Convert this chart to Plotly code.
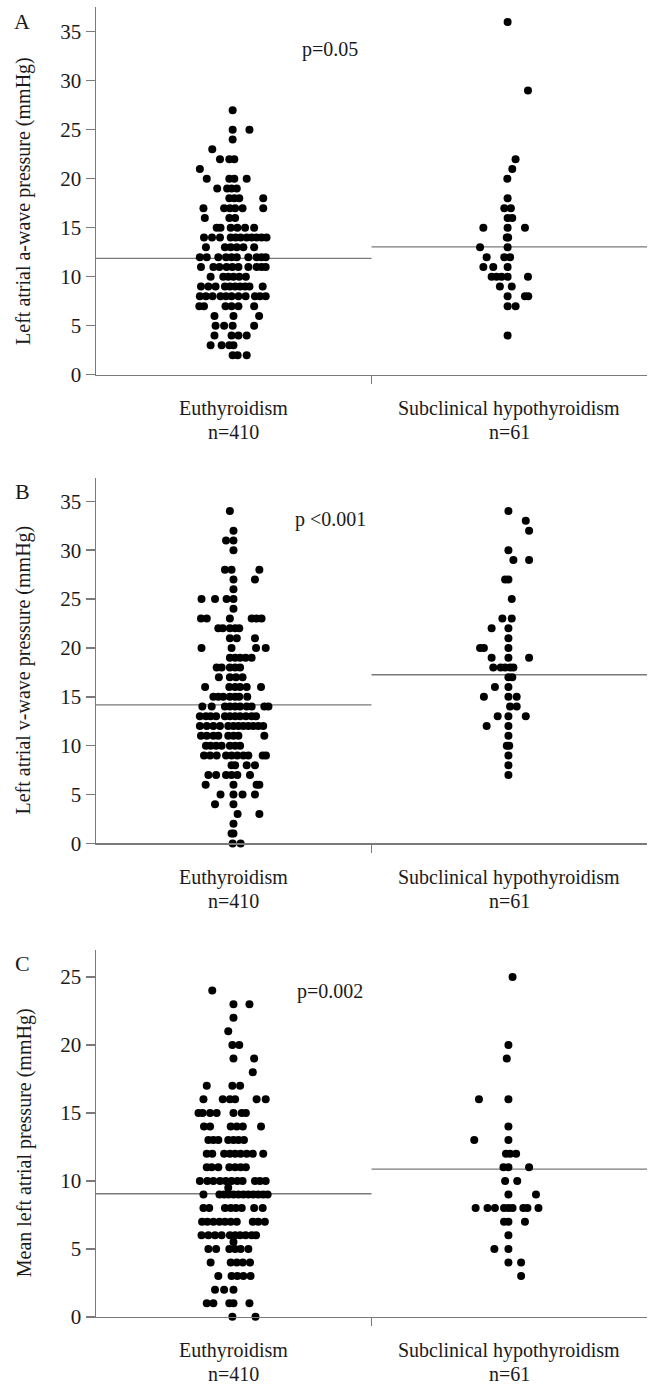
import plotly.graph_objects as go

# ---------------- data ----------------
categories = ["Euthyroidism", "Subclinical hypothyroidism"]
group_sizes = ["n=410", "n=61"]
panel_letters = ["A", "B", "C"]
y_titles = ["Left atrial a-wave pressure (mmHg)",
            "Left atrial v-wave pressure (mmHg)",
            "Mean left atrial pressure (mmHg)"]
p_values = ["p=0.05", "p <0.001", "p=0.002"]
y_tick_values = [[0, 5, 10, 15, 20, 25, 30, 35],
                 [0, 5, 10, 15, 20, 25, 30, 35],
                 [0, 5, 10, 15, 20, 25]]
y_max = [37.5, 37.4, 27.0]

# group means (horizontal lines)
means_a = [11.87, 13.05]
means_b = [14.17, 17.25]
means_c = [9.05, 10.87]

# value -> horizontal jitter offsets (category units) of each dot
a_euth = {
    27: [-0.004], 25: [-0.004, 0.057], 24: [-0.004], 23: [-0.078],
    22: [-0.050, -0.016, 0.002], 21: [-0.123],
    20: [-0.098, -0.016, 0.002, 0.047],
    19: [-0.060, -0.024, -0.008, 0.011],
    18: [-0.016, 0.002, 0.020, 0.107],
    17: [-0.110, -0.035, -0.014, 0.005, 0.032, 0.107],
    16: [-0.105, -0.016, 0.005],
    15: [-0.062, -0.048, -0.011, 0.013, 0.041, 0.074],
    14: [-0.108, -0.079, -0.050, -0.011, 0.007, 0.025, 0.047, 0.065, 0.083, 0.101, 0.119],
    13: [-0.101, -0.032, -0.011, 0.011, 0.035, 0.074],
    12: [-0.123, -0.098, -0.056, -0.028, -0.008, 0.011, 0.053, 0.083, 0.101, 0.116],
    11: [-0.119, -0.074, -0.052, -0.026, -0.005, 0.017, 0.053, 0.083, 0.101, 0.116],
    10: [-0.084, -0.038, -0.020, -0.001, 0.020, 0.044],
    9: [-0.119, -0.092, -0.066, -0.032, -0.014, 0.005, 0.023, 0.041, 0.057, 0.105],
    8: [-0.123, -0.101, -0.077, -0.048, -0.028, -0.008, 0.017, 0.043, 0.077, 0.095, 0.116],
    7: [-0.125, -0.108, -0.030, -0.008, 0.017, 0.074],
    6: [-0.070, -0.001, 0.092],
    5: [-0.066, -0.035, -0.004, 0.074],
    4: [-0.070, -0.008, 0.017, 0.047],
    3: [-0.084, -0.044, -0.016, -0.001],
    2: [-0.004, 0.014, 0.047],
}
a_sub = {
    36: [-0.006], 29: [0.068], 22: [0.023], 21: [0.011], 20: [-0.007],
    18: [-0.006], 17: [-0.018, 0.006], 16: [-0.006, 0.011],
    15: [-0.094, -0.006, 0.057], 14: [-0.009, -0.004],
    13: [-0.106, -0.006], 12: [-0.082, -0.018, 0.003],
    11: [-0.094, -0.058, -0.006],
    10: [-0.064, -0.046, -0.028, -0.006, 0.068],
    9: [-0.034, 0.009], 8: [-0.006, 0.057, 0.069], 7: [-0.006, 0.023],
    4: [-0.006],
}
b_euth = {
    34: [-0.014], 32: [-0.001], 31: [-0.028, -0.001], 30: [-0.001],
    28: [-0.032, -0.008, 0.093], 27: [-0.001, 0.077], 26: [-0.001],
    25: [-0.117, -0.068, -0.026, -0.001], 24: [-0.001],
    23: [-0.119, -0.098, -0.014, 0.065, 0.083, 0.101],
    22: [-0.056, -0.040, -0.014, 0.005, 0.020],
    21: [-0.014, 0.011, 0.077],
    20: [-0.117, -0.008, 0.081, 0.116],
    19: [-0.014, 0.005, 0.023, 0.043, 0.065],
    18: [-0.062, -0.044, -0.014, 0.005, 0.023],
    17: [-0.054, -0.014, 0.008, 0.032],
    16: [-0.104, -0.016, 0.005, 0.023, 0.047, 0.099],
    15: [-0.074, -0.056, -0.038, -0.014, 0.005, 0.020, 0.049],
    14: [-0.114, -0.080, -0.032, -0.014, 0.005, 0.023, 0.047, 0.065, 0.111, 0.126],
    13: [-0.123, -0.101, -0.084, -0.064, -0.032, -0.014, 0.005, 0.023, 0.044, 0.065, 0.081],
    12: [-0.123, -0.098, -0.074, -0.050, -0.020, -0.001, 0.017, 0.035, 0.053, 0.071, 0.089, 0.107],
    11: [-0.119, -0.098, -0.074, -0.056, -0.020, -0.001, 0.017, 0.111],
    10: [-0.101, -0.084, -0.064, -0.044, -0.014, 0.005, 0.023],
    9: [-0.108, -0.086, -0.062, -0.028, -0.008, 0.013, 0.035, 0.053, 0.105, 0.117],
    8: [-0.008, 0.005, 0.047, 0.077],
    7: [-0.092, -0.064, -0.028, -0.008, 0.013, 0.059],
    6: [-0.102, -0.001, 0.083, 0.093],
    5: [-0.048, -0.001, 0.032, 0.077],
    4: [-0.068, -0.001], 3: [0.014, 0.093], 2: [-0.001],
    1: [-0.008, -0.001], 0: [-0.004, 0.025],
}
b_sub = {
    34: [-0.003], 33: [0.060], 32: [0.072], 30: [-0.003],
    29: [0.015, 0.072], 27: [-0.015, -0.003], 25: [0.009],
    23: [-0.025, 0.009], 22: [-0.064, -0.003], 21: [-0.003],
    20: [-0.106, -0.092, -0.003], 19: [-0.064, -0.003, 0.072],
    18: [-0.058, -0.031, -0.015, 0.003, 0.015], 17: [-0.003, 0.011],
    16: [-0.052, -0.003], 15: [-0.092, -0.003, 0.027], 14: [0.003, 0.027],
    13: [-0.042, -0.003, 0.060], 12: [-0.082, -0.003], 11: [-0.003],
    10: [-0.009, 0.0], 9: [-0.003], 8: [-0.003], 7: [-0.003],
}
c_euth = {
    24: [-0.078], 23: [-0.001, 0.057], 22: [-0.001], 21: [-0.020],
    20: [-0.005, 0.020], 19: [-0.001, 0.074], 18: [0.069],
    17: [-0.098, -0.005, 0.023],
    16: [-0.110, -0.040, -0.014, 0.005, 0.083, 0.116],
    15: [-0.128, -0.113, -0.086, -0.062, -0.001, 0.029, 0.044],
    14: [-0.108, -0.086, -0.011, 0.011, 0.033, 0.099],
    13: [-0.092, -0.074, -0.056, -0.020, -0.001, 0.017, 0.037],
    12: [-0.098, -0.078, -0.035, -0.014, 0.005, 0.025, 0.047, 0.069, 0.107],
    11: [-0.098, -0.080, -0.056, -0.016, 0.005, 0.025, 0.044],
    10: [-0.123, -0.096, -0.074, -0.050, -0.029, -0.008, 0.013, 0.032, 0.077, 0.095, 0.116],
    9.5: [-0.020],
    9: [-0.110, -0.052, -0.035, -0.019, -0.001, 0.017, 0.035, 0.053, 0.071, 0.089, 0.107, 0.123],
    8: [-0.110, -0.089, -0.032, -0.011, 0.008, 0.029, 0.074, 0.105],
    7: [-0.115, -0.096, -0.074, -0.052, -0.032, -0.011, 0.011, 0.069, 0.089, 0.113],
    6: [-0.117, -0.092, -0.068, -0.044, -0.014, 0.005, 0.023, 0.043, 0.065, 0.081],
    5.5: [-0.001],
    5: [-0.092, -0.064, -0.016, 0.005, 0.025, 0.053],
    4: [-0.084, -0.011, 0.011, 0.033, 0.059],
    3: [-0.056, -0.008, 0.013, 0.035, 0.061],
    2: [-0.068, -0.035, -0.001],
    1: [-0.098, -0.074, -0.016, -0.001, 0.057],
    0: [-0.005, 0.079],
}
c_sub = {
    25: [0.012], 20: [-0.003], 19: [-0.009], 16: [-0.110, -0.003],
    14: [-0.003], 13: [-0.127, -0.003], 12: [-0.012, 0.003, 0.025],
    11: [-0.021, -0.003, 0.072], 10: [-0.015, 0.029], 9: [-0.003, 0.097],
    8: [-0.122, -0.079, -0.052, -0.019, -0.003, 0.012, 0.051, 0.066, 0.106],
    7: [-0.019, -0.003, 0.057], 6: [-0.003], 5: [-0.054, -0.003],
    4: [-0.003, 0.043], 3: [0.043],
}

panels = [
    (a_euth, a_sub, means_a),
    (b_euth, b_sub, means_b),
    (c_euth, c_sub, means_c),
]

# ---------------- layout helpers (pixel geometry) ----------------
W, H = 649, 1395
def px(x):
    return x / W
def py(y):
    return 1 - y / H

AXIS_COLOR = "#7a7a7a"
TEXT_COLOR = "#1a1a1a"
FONT = "Liberation Serif, Times New Roman, serif"

# (top px, zero-line px) for each panel
panel_px = [(7.3, 378.0), (482.0, 850.7), (958.0, 1328.3)]
x_left_px, x_right_px = 96.0, 647.0

fig = go.Figure()
layout_axes = {}
annotations = []

for i, ((euth, sub, means), (top, bottom)) in enumerate(zip(panels, panel_px)):
    n = "" if i == 0 else str(i + 1)
    xa, ya = "x" + n, "y" + n
    # mean lines
    for g, m in enumerate(means):
        fig.add_trace(go.Scatter(
            x=[g - 0.5, g + 0.5], y=[m, m], mode="lines",
            line=dict(color=AXIS_COLOR, width=1.4),
            xaxis=xa, yaxis=ya, showlegend=False, hoverinfo="skip"))
    # dots
    for g, grp in enumerate([euth, sub]):
        xs, ys = [], []
        for val, offs in grp.items():
            for o in offs:
                xs.append(g + o)
                ys.append(val)
        fig.add_trace(go.Scatter(
            x=xs, y=ys, mode="markers",
            marker=dict(color="black", size=8, line=dict(width=0)),
            xaxis=xa, yaxis=ya, showlegend=False, cliponaxis=False))

    layout_axes["xaxis" + n] = dict(
        domain=[px(x_left_px), px(x_right_px)], range=[-0.5, 1.5],
        anchor=ya, showline=True, linecolor=AXIS_COLOR, linewidth=1.5,
        ticks="outside", tickvals=[0.5], ticktext=[""], ticklen=8,
        tickcolor=AXIS_COLOR, tickwidth=1.5,
        showgrid=False, zeroline=False, fixedrange=True)
    layout_axes["yaxis" + n] = dict(
        domain=[py(bottom), py(top)], range=[0, y_max[i]],
        anchor=xa, showline=True, linecolor=AXIS_COLOR, linewidth=1.5,
        ticks="outside", tickvals=y_tick_values[i], ticklen=9,
        tickcolor=AXIS_COLOR, tickwidth=1.5,
        tickfont=dict(family=FONT, size=21, color=TEXT_COLOR),
        showgrid=False, zeroline=False, fixedrange=True)

    # panel letter
    annotations.append(dict(text=panel_letters[i], x=px(22), y=py(top + 14),
                            xref="paper", yref="paper", showarrow=False,
                            xanchor="center", yanchor="middle",
                            font=dict(family=FONT, size=22, color=TEXT_COLOR)))
    # y title
    annotations.append(dict(text=y_titles[i], x=px(24), y=py((top + bottom) / 2 + 10),
                            xref="paper", yref="paper", showarrow=False, textangle=-90,
                            xanchor="center", yanchor="middle",
                            font=dict(family=FONT, size=20, color=TEXT_COLOR)))
    # p value
    annotations.append(dict(text=p_values[i], x=0.35, y=y_max[i] * 0.885,
                            xref=xa, yref=ya, showarrow=False,
                            xanchor="center", yanchor="middle",
                            font=dict(family=FONT, size=20, color=TEXT_COLOR)))
    # category labels
    for g in range(2):
        annotations.append(dict(text=categories[g], x=g, y=py(bottom + 34),
                                xref=xa, yref="paper", showarrow=False,
                                xanchor="center", yanchor="middle",
                                font=dict(family=FONT, size=20, color=TEXT_COLOR)))
        annotations.append(dict(text=group_sizes[g], x=g, y=py(bottom + 58),
                                xref=xa, yref="paper", showarrow=False,
                                xanchor="center", yanchor="middle",
                                font=dict(family=FONT, size=20, color=TEXT_COLOR)))

fig.update_layout(
    width=W, height=H, autosize=False,
    margin=dict(l=0, r=0, t=0, b=0),
    paper_bgcolor="white", plot_bgcolor="white",
    showlegend=False, annotations=annotations,
    **layout_axes)

fig.write_html("out.html",
               config={"displayModeBar": False, "staticPlot": True},
               post_script="document.body.style.margin='0';"
                           "document.body.style.overflow='hidden';")
